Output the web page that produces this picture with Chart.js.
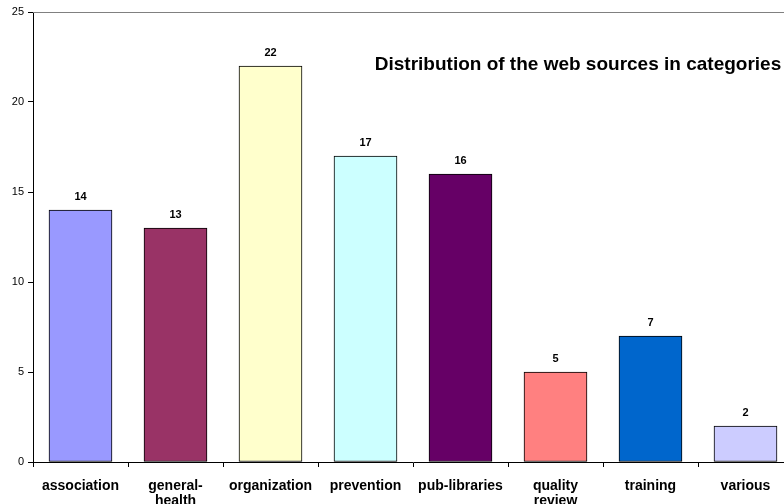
<!DOCTYPE html>
<html>
<head>
<meta charset="utf-8">
<script src="https://cdn.jsdelivr.net/npm/chart.js@4/dist/chart.umd.min.js"></script>
<style>
  html, body { margin: 0; padding: 0; overflow: hidden; background: #fff; }
  #wrap { width: 793px; height: 504px; }
</style>
</head>
<body>
<div id="wrap"><canvas id="chart"></canvas></div>
<script>
const categories = ['association', ['general-', 'health'], 'organization', 'prevention', 'pub-libraries', ['quality', 'review'], 'training', 'various']
const counts = [14, 13, 22, 17, 16, 5, 7, 2]
const barColors = ['#9999FF', '#993366', '#FFFFCC', '#CCFFFF', '#660066', '#FF8080', '#0066CC', '#CCCCFF']
const yTicks = [0, 5, 10, 15, 20, 25]
const chartTitle = 'Distribution of the web sources in categories'

const FONT = 'Liberation Sans, Arial, sans-serif'

// value labels above each bar, plus the title inside the plot area
const decorations = {
  id: 'decorations',
  afterDatasetsDraw (chart) {
    const { ctx, chartArea } = chart
    ctx.save()
    // grey top border of the plot area
    ctx.strokeStyle = '#808080'
    ctx.lineWidth = 1
    ctx.beginPath()
    ctx.moveTo(chartArea.left, chartArea.top + 0.5)
    ctx.lineTo(chartArea.right, chartArea.top + 0.5)
    ctx.stroke()

    ctx.fillStyle = '#000'
    ctx.font = 'bold 11px ' + FONT
    ctx.textAlign = 'center'
    ctx.textBaseline = 'middle'
    chart.getDatasetMeta(0).data.forEach((bar, i) => {
      ctx.fillText(String(counts[i]), bar.x, bar.y - 13)
    })

    ctx.font = 'bold 19px ' + FONT
    ctx.fillText(chartTitle, 578, 65)
    ctx.restore()
  }
}

new Chart(document.getElementById('chart'), {
  type: 'bar',
  data: {
    labels: categories,
    datasets: [{
      data: counts,
      backgroundColor: barColors,
      borderColor: '#000',
      borderWidth: 1,
      borderSkipped: false,
      barThickness: 63
    }]
  },
  options: {
    responsive: true,
    maintainAspectRatio: false,
    animation: false,
    layout: { padding: { top: 12, left: 0, right: 0, bottom: 0 } },
    plugins: {
      legend: { display: false },
      tooltip: { enabled: false }
    },
    scales: {
      x: {
        offset: true,
        border: { color: '#000', width: 1 },
        grid: { offset: true, drawOnChartArea: false, tickLength: 5, color: '#000' },
        ticks: {
          color: '#000',
          font: { family: FONT, size: 14, weight: 'bold', lineHeight: 1.05 },
          padding: 12,
          maxRotation: 0,
          autoSkip: false
        },
        afterFit: (scale) => { scale.height = 42 }
      },
      y: {
        min: 0,
        max: 25,
        afterBuildTicks: (scale) => { scale.ticks = yTicks.map((v) => ({ value: v })) },
        border: { color: '#000', width: 1 },
        grid: { drawOnChartArea: false, tickLength: 5, color: '#000' },
        ticks: {
          color: '#000',
          font: { family: FONT, size: 11 },
          padding: 4
        },
        afterFit: (scale) => { scale.width = 33 }
      }
    }
  },
  plugins: [decorations]
})
</script>
</body>
</html>
